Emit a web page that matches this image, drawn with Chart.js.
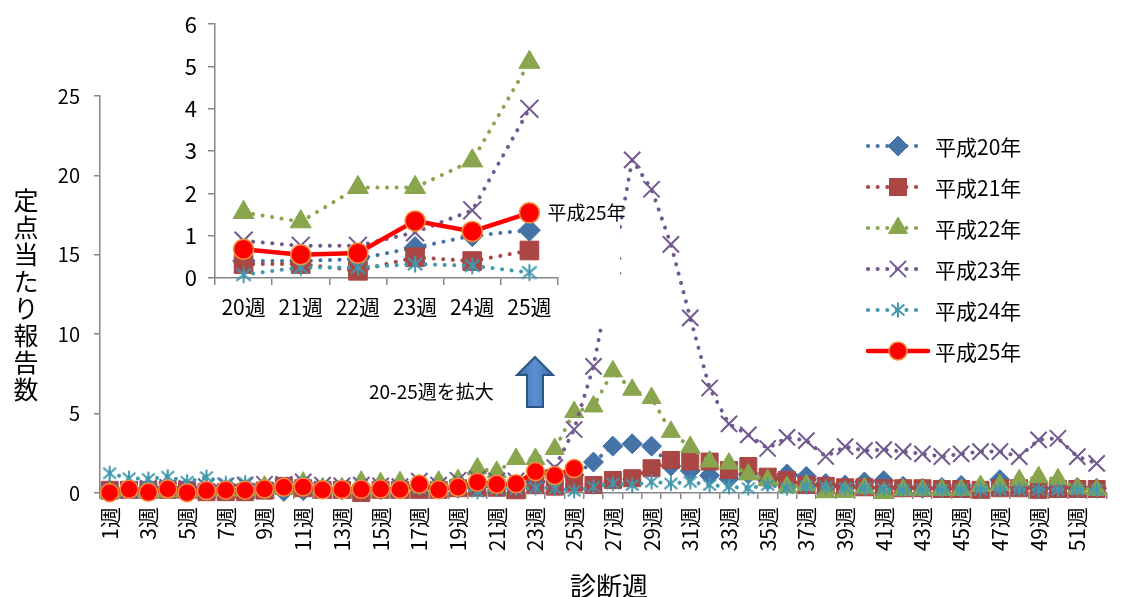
<!DOCTYPE html>
<html>
<head>
<meta charset="utf-8">
<script src="https://cdn.jsdelivr.net/npm/chart.js@4/dist/chart.umd.min.js"></script>
<style>
  html, body { margin: 0; padding: 0; background: #ffffff; }
  #wrap { position: relative; width: 1130px; height: 597px; overflow: hidden; }
  #main { position: absolute; left: 0; top: 0; }
  #inset { position: absolute; left: 170px; top: 0; }
</style>
</head>
<body>
<div id="wrap">
  <canvas id="main" width="1130" height="597" style="width:1130px;height:597px"></canvas>
  <canvas id="inset" width="460" height="329" style="width:460px;height:329px"></canvas>
</div>
<script>
// 診断週（1〜52週）
const weeks = ['1週','2週','3週','4週','5週','6週','7週','8週','9週','10週',
  '11週','12週','13週','14週','15週','16週','17週','18週','19週','20週',
  '21週','22週','23週','24週','25週','26週','27週','28週','29週','30週',
  '31週','32週','33週','34週','35週','36週','37週','38週','39週','40週',
  '41週','42週','43週','44週','45週','46週','47週','48週','49週','50週',
  '51週','52週'];

const seriesNames = ['平成20年','平成21年','平成22年','平成23年','平成24年','平成25年'];

// 定点当たり報告数
const h20 = [0.20,0.25,0.20,0.25,0.20,0.20,0.20,0.25,0.30,0.10,
             0.15,0.25,0.20,0.25,0.20,0.25,0.30,0.25,0.30,0.40,
             0.40,0.45,0.72,1.00,1.13,1.95,2.95,3.10,2.95,1.70,
             1.40,1.10,0.90,1.20,0.80,1.20,1.05,0.60,0.50,0.70,
             0.78,0.42,0.30,0.35,0.48,0.30,0.84,0.40,0.30,0.30,
             0.35,0.30];
const h21 = [0.20,0.20,0.20,0.20,0.20,0.05,0.05,0.05,0.15,0.45,
             0.30,0.20,0.20,0.00,0.20,0.20,0.20,0.20,0.30,0.33,
             0.33,0.17,0.49,0.40,0.65,0.50,0.82,0.93,1.56,2.08,
             1.98,1.98,1.45,1.70,1.03,0.82,0.50,0.45,0.36,0.36,
             0.30,0.30,0.30,0.25,0.25,0.20,0.30,0.30,0.20,0.25,
             0.25,0.25];
const h22 = [0.05,0.10,0.10,0.10,0.10,0.20,0.20,0.20,0.40,0.30,
             0.65,0.30,0.30,0.71,0.61,0.68,0.50,0.71,0.82,1.55,
             1.33,2.14,2.14,2.77,5.10,5.45,7.66,6.50,5.98,3.85,
             2.90,1.98,1.85,1.17,0.80,0.38,0.50,0.05,0.07,0.30,
             0.00,0.20,0.20,0.20,0.20,0.44,0.50,0.80,1.00,0.86,
             0.30,0.20];
const h23 = [0.10,0.20,0.30,0.35,0.30,0.40,0.45,0.50,0.55,0.55,
             0.70,0.50,0.45,0.50,0.45,0.40,0.75,0.50,0.80,0.88,
             0.76,0.76,1.08,1.60,4.00,7.97,14.30,20.98,19.13,15.66,
             11.03,6.61,4.35,3.66,2.80,3.50,3.30,2.30,2.92,2.67,
             2.73,2.61,2.46,2.29,2.46,2.61,2.61,2.29,3.35,3.45,
             2.29,1.87];
const h24 = [1.24,0.93,0.88,1.03,0.71,1.00,0.60,0.65,0.40,0.30,
             0.60,0.40,0.30,0.30,0.30,0.30,0.30,0.30,0.25,0.08,
             0.25,0.25,0.33,0.29,0.13,0.40,0.60,0.50,0.70,0.60,
             0.70,0.50,0.40,0.30,0.50,0.30,0.40,0.40,0.30,0.30,
             0.25,0.20,0.20,0.20,0.20,0.20,0.20,0.20,0.20,0.20,
             0.20,0.20];
const h25 = [0.02,0.23,0.04,0.25,0.02,0.15,0.18,0.18,0.25,0.36,
             0.38,0.20,0.22,0.23,0.25,0.22,0.55,0.20,0.36,0.68,
             0.55,0.59,1.35,1.10,1.54,null,null,null,null,null,
             null,null,null,null,null,null,null,null,null,null,
             null,null,null,null,null,null,null,null,null,null,
             null,null];

const yTicksMain = [0, 5, 10, 15, 20, 25];
const yTicksInset = [0, 1, 2, 3, 4, 5, 6];
const zoomFrom = 20, zoomTo = 25;   // 拡大する週の範囲

const FONT = '"Noto Sans CJK JP", "Noto Sans", sans-serif';
const AXIS = '#868686';

// アスタリスク型マーカー
function asteriskMarker(color, size) {
  const c = document.createElement('canvas');
  c.width = size; c.height = size;
  const g = c.getContext('2d');
  const m = size / 2, r = size / 2 - 1.5;
  g.strokeStyle = color;
  g.lineWidth = 2;
  g.lineCap = 'butt';
  g.beginPath();
  g.moveTo(m, m - r); g.lineTo(m, m + r);
  g.moveTo(m - r * 0.85, m - r * 0.72); g.lineTo(m + r * 0.85, m + r * 0.72);
  g.moveTo(m - r * 0.85, m + r * 0.72); g.lineTo(m + r * 0.85, m - r * 0.72);
  g.stroke();
  return c;
}

function buildDatasets(values, big) {
  const k = big ? 1.1 : 1;
  const dotted = { borderWidth: 4, borderDash: [0.1, 9.5], borderCapStyle: 'round' };
  const colors = ['#4572A7', '#AA4643', '#89A54E', '#71588F', '#4198AF'];
  const styles = [
    { pointStyle: 'rectRot', pointRadius: 10 * k, pointBorderWidth: 1 },
    { pointStyle: 'rect', pointRadius: 12 * k, pointBorderWidth: 1 },
    { pointStyle: 'triangle', pointRadius: 11 * k, pointBorderWidth: 1 },
    { pointStyle: 'crossRot', pointRadius: 11.5 * k, pointBorderWidth: 2 },
    { pointStyle: asteriskMarker('#4198AF', Math.round(18 * k)), pointRadius: 9 * k, pointBorderWidth: 2 }
  ];
  const sets = [];
  for (let i = 0; i < 5; i++) {
    sets.push(Object.assign({
      label: seriesNames[i],
      data: values[i],
      borderColor: colors[i],
      backgroundColor: colors[i],
      pointBackgroundColor: colors[i],
      pointBorderColor: colors[i],
      pointHoverRadius: styles[i].pointRadius,
      tension: 0,
      fill: false,
      clip: false,
      order: 6 - i
    }, dotted, styles[i]));
  }
  sets.push({
    label: seriesNames[5],
    data: values[5],
    borderColor: '#FF0000',
    backgroundColor: '#FF0000',
    borderWidth: 4.5,
    pointStyle: 'circle',
    pointRadius: big ? 10 : 9,
    pointHoverRadius: big ? 10 : 9,
    pointBackgroundColor: '#FF0000',
    pointBorderColor: '#F0903C',
    pointBorderWidth: 1.5,
    tension: 0,
    fill: false,
    clip: false,
    order: 1
  });
  return sets;
}

function drawMarker(ctx, ds, x, y) {
  ctx.save();
  ctx.setLineDash([]);
  ctx.fillStyle = ds.pointBackgroundColor;
  ctx.strokeStyle = ds.pointBorderColor;
  ctx.lineWidth = ds.pointBorderWidth;
  if (Chart.helpers && Chart.helpers.drawPoint) {
    Chart.helpers.drawPoint(ctx, { pointStyle: ds.pointStyle, radius: ds.pointRadius, borderWidth: ds.pointBorderWidth, rotation: 0 }, x, y);
  }
  ctx.restore();
}

// 凡例・軸タイトル・注記
const decorations = {
  id: 'decorations',
  afterDraw(chart) {
    const ctx = chart.ctx;
    ctx.save();
    // 縦書きの軸タイトル
    ctx.fillStyle = '#000';
    ctx.font = '25px ' + FONT;
    ctx.textAlign = 'center';
    ctx.textBaseline = 'middle';
    const yTitle = '定点当たり報告数';
    for (let i = 0; i < yTitle.length; i++) {
      ctx.fillText(yTitle[i], 26, 200 + i * 27.1);
    }
    // 横軸タイトル
    ctx.font = '26px ' + FONT;
    ctx.fillText('診断週', 609, 586);

    // 凡例
    const rows = [146, 187, 228, 269, 310, 351];
    chart.data.datasets.forEach((ds, i) => {
      const y = rows[i];
      ctx.save();
      ctx.strokeStyle = ds.borderColor;
      ctx.lineWidth = ds.borderWidth;
      ctx.lineCap = ds.borderCapStyle || 'round';
      ctx.setLineDash(ds.borderDash || []);
      ctx.beginPath();
      if (ds.borderDash) { ctx.moveTo(868, y); ctx.lineTo(924, y); }
      else { ctx.moveTo(868, y); ctx.lineTo(928, y); }
      ctx.stroke();
      ctx.restore();
      drawMarker(ctx, ds, 898, y);
      ctx.fillStyle = '#000';
      ctx.font = '21px ' + FONT;
      ctx.textAlign = 'left';
      ctx.textBaseline = 'middle';
      ctx.fillText(ds.label, 935, y + 1);
    });

    // 拡大の注記と矢印
    ctx.fillStyle = '#000';
    ctx.font = '19px ' + FONT;
    ctx.textAlign = 'left';
    ctx.textBaseline = 'middle';
    ctx.fillText(zoomFrom + '-' + zoomTo + '週を拡大', 369, 392);

    const grad = ctx.createLinearGradient(517, 0, 553, 0);
    grad.addColorStop(0, '#3E6FAE');
    grad.addColorStop(0.5, '#5B8FD2');
    grad.addColorStop(1, '#3E6FAE');
    ctx.beginPath();
    ctx.moveTo(535, 357);
    ctx.lineTo(553, 375);
    ctx.lineTo(543, 375);
    ctx.lineTo(543, 407);
    ctx.lineTo(527, 407);
    ctx.lineTo(527, 375);
    ctx.lineTo(517, 375);
    ctx.closePath();
    ctx.fillStyle = grad;
    ctx.fill();
    ctx.strokeStyle = '#2B5584';
    ctx.lineWidth = 2;
    ctx.lineJoin = 'miter';
    ctx.stroke();
    ctx.restore();
  }
};

const mainChart = new Chart(document.getElementById('main'), {
  type: 'line',
  data: {
    labels: weeks,
    datasets: buildDatasets([h20, h21, h22, h23, h24, h25], false)
  },
  options: {
    responsive: false,
    animation: false,
    devicePixelRatio: 1,
    layout: { padding: { left: 0, right: 2, top: 96, bottom: 0 } },
    plugins: { legend: { display: false }, tooltip: { enabled: false } },
    scales: {
      x: {
        type: 'category',
        offset: true,
        border: { color: AXIS, width: 1.5 },
        grid: { offset: true, drawOnChartArea: false, drawTicks: true, tickLength: 6, color: AXIS, lineWidth: 1.5 },
        ticks: {
          autoSkip: false, minRotation: 90, maxRotation: 90, padding: 8,
          color: '#000', font: { family: FONT, size: 21 },
          callback: (v, i) => (i % 2 === 0 ? weeks[i] : '')
        },
        afterFit: s => { s.height = 104; }
      },
      y: {
        min: 0, max: 25,
        border: { color: AXIS, width: 1.5 },
        grid: { drawOnChartArea: false, drawTicks: true, tickLength: 6, color: AXIS, lineWidth: 1.5 },
        afterBuildTicks: s => { s.ticks = yTicksMain.map(v => ({ value: v })); },
        ticks: { padding: 14, color: '#000', font: { family: FONT, size: 20 } },
        afterFit: s => { s.width = 100; }
      }
    }
  },
  plugins: [decorations]
});

// 20〜25週の拡大図
const insetWeeks = weeks.slice(zoomFrom - 1, zoomTo);
const cut = a => a.slice(zoomFrom - 1, zoomTo);

const insetPanel = {
  id: 'insetPanel',
  beforeDraw(chart) {
    // 拡大図の白い下地（右端は本図の線が見える位置まで）
    const ctx = chart.ctx;
    ctx.save();
    ctx.fillStyle = '#ffffff';
    ctx.fillRect(0, 0, 450, 328);
    ctx.restore();
  },
  afterDraw(chart) {
    const ctx = chart.ctx;
    const ds = chart.data.datasets[5];
    const i = ds.data.length - 1;
    const x = chart.scales.x.getPixelForValue(i) + 18;
    const y = chart.scales.y.getPixelForValue(ds.data[i]);
    ctx.save();
    ctx.fillStyle = '#000';
    ctx.font = '19px ' + FONT;
    ctx.textAlign = 'left';
    ctx.textBaseline = 'middle';
    ctx.fillText(ds.label, x, y);
    ctx.restore();
  }
};

const insetChart = new Chart(document.getElementById('inset'), {
  type: 'line',
  data: {
    labels: insetWeeks,
    datasets: buildDatasets([cut(h20), cut(h21), cut(h22), cut(h23), cut(h24), cut(h25)], true)
  },
  options: {
    responsive: false,
    animation: false,
    devicePixelRatio: 1,
    layout: { padding: { left: 0, right: 72, top: 21, bottom: 0 } },
    plugins: { legend: { display: false }, tooltip: { enabled: false } },
    scales: {
      x: {
        type: 'category',
        offset: true,
        border: { color: AXIS, width: 1.5 },
        grid: { offset: true, drawOnChartArea: false, drawTicks: true, tickLength: 7, color: AXIS, lineWidth: 1.5 },
        ticks: { autoSkip: false, maxRotation: 0, minRotation: 0, padding: 9, color: '#000', font: { family: FONT, size: 21 } },
        afterFit: s => { s.height = 51; }
      },
      y: {
        min: 0, max: 6,
        border: { color: AXIS, width: 1.5 },
        grid: { drawOnChartArea: false, drawTicks: true, tickLength: 7, color: AXIS, lineWidth: 1.5 },
        afterBuildTicks: s => { s.ticks = yTicksInset.map(v => ({ value: v })); },
        ticks: { padding: 11, color: '#000', font: { family: FONT, size: 22 } },
        afterFit: s => { s.width = 45; }
      }
    }
  },
  plugins: [insetPanel]
});
</script>
</body>
</html>
